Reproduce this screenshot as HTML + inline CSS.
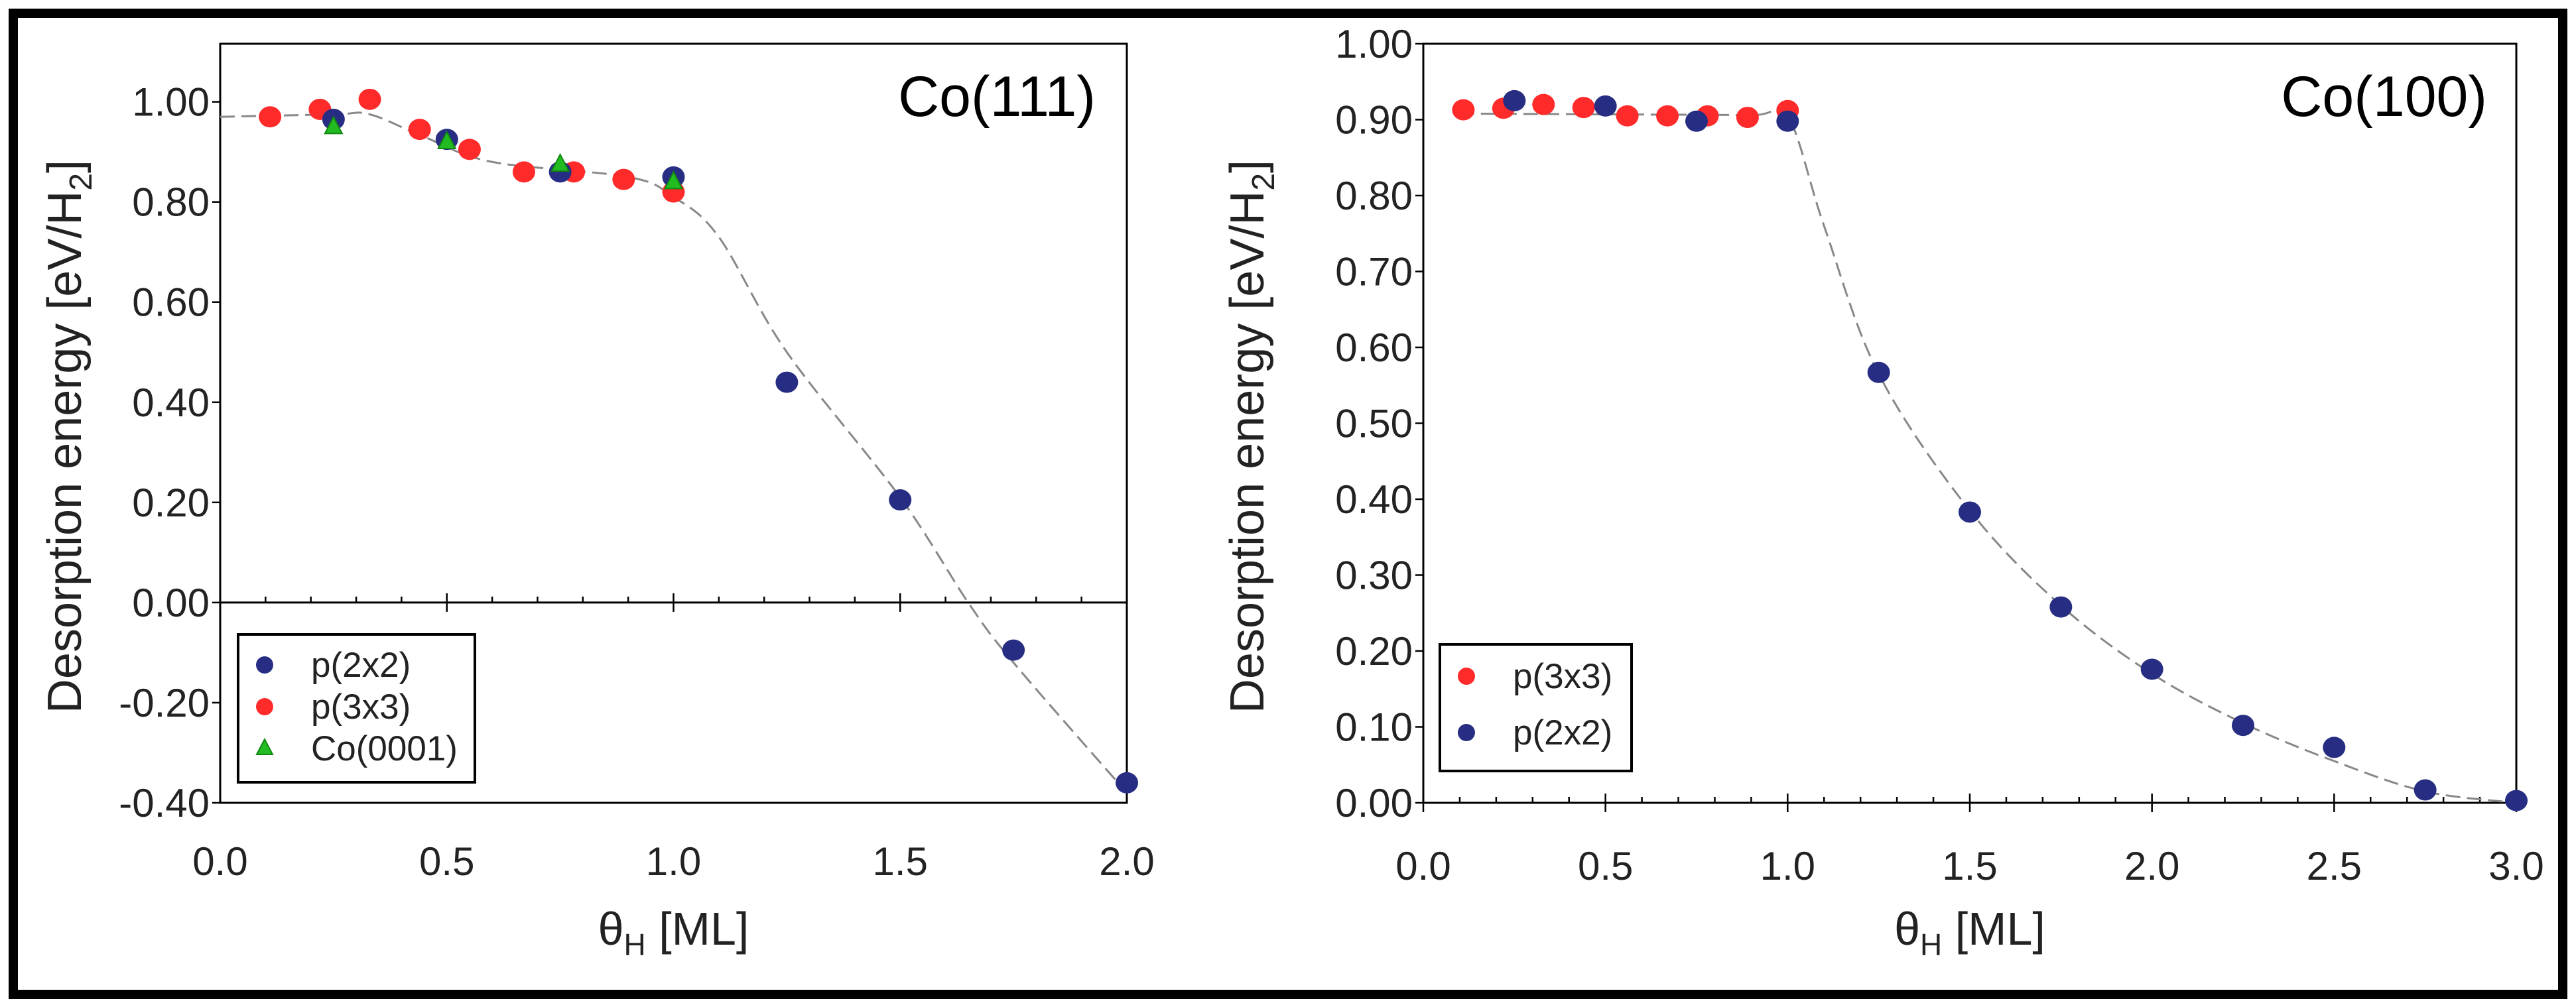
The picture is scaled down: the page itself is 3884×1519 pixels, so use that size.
<!DOCTYPE html>
<html><head><meta charset="utf-8"><style>
html,body{margin:0;padding:0;background:#fff}
svg{display:block;font-family:"Liberation Sans",Arial,sans-serif}
</style></head><body>
<svg id="chart" width="3884" height="1519" viewBox="0 0 3884 1519">
<rect x="20" y="20" width="3844" height="1480" fill="none" stroke="#000" stroke-width="14"/>
<g id="left"></g>
<g id="right"></g>
</svg>
<script>
// Left panel data
const L_red_x=[0.11,0.22,0.33,0.44,0.55,0.67,0.78,0.89,1.0];
const L_red_y=[0.97,0.985,1.005,0.945,0.905,0.86,0.86,0.845,0.82];
const L_blue_x=[0.25,0.5,0.75,1.0,1.25,1.5,1.75,2.0];
const L_blue_y=[0.965,0.925,0.86,0.85,0.44,0.205,-0.095,-0.36];
const L_green_x=[0.25,0.5,0.75,1.0];
const L_green_y=[0.95,0.92,0.875,0.84];
const L_fit_x=[0,0.25,0.33,0.45,0.6,0.9,1.0,1.1,1.25,1.5,1.65,1.75,2.0];
const L_fit_y=[0.97,0.975,0.975,0.93,0.88,0.85,0.81,0.73,0.5,0.21,0.0,-0.12,-0.38];
const L_yticks=[1.0,0.8,0.6,0.4,0.2,0.0,-0.2,-0.4];
const L_xticks=[0.0,0.5,1.0,1.5,2.0];
// Right panel data
const R_red_x=[0.11,0.22,0.33,0.44,0.56,0.67,0.78,0.89,1.0];
const R_red_y=[0.913,0.915,0.92,0.916,0.905,0.905,0.905,0.903,0.912];
const R_blue_x=[0.25,0.5,0.75,1.0,1.25,1.5,1.75,2.0,2.25,2.5,2.75,3.0];
const R_blue_y=[0.925,0.918,0.898,0.898,0.567,0.383,0.258,0.176,0.102,0.073,0.017,0.003];
const R_fit_x=[0.1,0.5,0.9,1.0,1.1,1.25,1.5,1.75,2.0,2.25,2.5,2.75,3.0];
const R_fit_y=[0.908,0.907,0.906,0.905,0.76,0.565,0.385,0.26,0.17,0.105,0.055,0.015,0.0];
const R_yticks=[1.0,0.9,0.8,0.7,0.6,0.5,0.4,0.3,0.2,0.1,0.0];
const R_xticks=[0.0,0.5,1.0,1.5,2.0,2.5,3.0];

const NS="http://www.w3.org/2000/svg";
function mk(parent,tag,attrs,text){const e=document.createElementNS(NS,tag);for(const k in attrs)e.setAttribute(k,attrs[k]);if(text!==undefined)e.textContent=text;parent.appendChild(e);return e;}
function smooth(pts){let d="M"+pts[0][0]+","+pts[0][1];for(let i=0;i<pts.length-1;i++){const p0=pts[i-1]||pts[i],p1=pts[i],p2=pts[i+1],p3=pts[i+2]||p2;const c1=[p1[0]+(p2[0]-p0[0])/6,p1[1]+(p2[1]-p0[1])/6],c2=[p2[0]-(p3[0]-p1[0])/6,p2[1]-(p3[1]-p1[1])/6];d+=" C"+c1+" "+c2+" "+p2;}return d;}

function panel(g,o){
  const X=v=>o.x0+(v-o.xmin)/(o.xmax-o.xmin)*(o.x1-o.x0);
  const Y=v=>o.yb-(v-o.ymin)/(o.ymax-o.ymin)*(o.yb-o.yt);
  const fr=mk(g,"rect",{x:o.x0,y:o.yt,width:o.x1-o.x0,height:o.yb-o.yt,fill:"none",stroke:"#000","stroke-width":3});
  
  
  const zy=Y(0);
  const zl=mk(g,"line",{x1:o.x0,x2:o.x1,y1:zy,y2:zy,stroke:"#000","stroke-width":3});
  
  
  for(let v=o.xmin;v<=o.xmax+1e-9;v+=0.1){const major=Math.abs(v*2-Math.round(v*2))<1e-6;const t=mk(g,"line",{x1:X(v),x2:X(v),y1:zy-(major?14:9),y2:zy+(major?14:0),stroke:"#000","stroke-width":2.5});
    
    }
  o.yt_.forEach(v=>{const t=mk(g,"line",{x1:o.x0-12,x2:o.x0,y1:Y(v),y2:Y(v),stroke:"#000","stroke-width":2.5});
    
    
    const l=mk(g,"text",{x:o.x0-16,y:Y(v)+21,"text-anchor":"end","font-size":60,fill:"#222"},v.toFixed(2));
    
    });
  o.xt_.forEach(v=>{const l=mk(g,"text",{x:X(v),y:o.xly,"text-anchor":"middle","font-size":60,fill:"#222"},v.toFixed(1));
    
    });
  const fit=mk(g,"path",{d:smooth(o.fx.map((v,i)=>[X(v),Y(o.fy[i])])),fill:"none",stroke:"#888","stroke-width":3,"stroke-dasharray":"22,10"});
  
  
  o.series.forEach(s=>{s.x.forEach((v,i)=>{const cx=X(v),cy=Y(s.y[i]);let m;
    if(s.tri){m=mk(g,"polygon",{points:`${cx},${cy-15} ${cx-13},${cy+10} ${cx+13},${cy+10}`,fill:"#22bb22",stroke:"#118811","stroke-width":2});}
    else{m=mk(g,"ellipse",{cx:cx,cy:cy,rx:17,ry:16,fill:s.c});}
    
    });});
  const t=mk(g,"text",{x:o.tx,y:o.tyy,"text-anchor":"end","font-size":86,fill:"#000"},o.title);
  
  
  const xl=mk(g,"text",{x:(o.x0+o.x1)/2,y:1425,"text-anchor":"middle","font-size":70,fill:"#222"});
  
  
  xl.innerHTML='θ<tspan font-size="46" dy="16">H</tspan><tspan dy="-16"> [ML]</tspan>';
  const yl=mk(g,"text",{x:0,y:0,"text-anchor":"middle","font-size":72,fill:"#222",transform:`translate(${o.ylx},${(o.yt+o.yb)/2+20}) rotate(-90)`});
  
  
  yl.innerHTML='Desorption energy [eV/H<tspan font-size="48" dy="16">2</tspan><tspan dy="-16">]</tspan>';
  const lg=mk(g,"rect",{x:o.lg[0],y:o.lg[1],width:o.lg[2],height:o.lg[3],fill:"#fff",stroke:"#000","stroke-width":4});
  
  
  o.legend.forEach((s,i)=>{const cy=o.lg[1]+o.lgy0+i*o.lgdy,cx=o.lg[0]+40;let m;
    if(s.tri)m=mk(g,"polygon",{points:`${cx},${cy-14} ${cx-12},${cy+9} ${cx+12},${cy+9}`,fill:"#22bb22",stroke:"#118811","stroke-width":2});
    else m=mk(g,"circle",{cx:cx,cy:cy,r:13,fill:s.c});
    
    
    const tx=mk(g,"text",{x:cx+70,y:cy+18,"font-size":53,fill:"#222"},s.label);
    
    });
}
const RED="#ff2a2a",BLUE="#262d82";
panel(document.getElementById("left"),{x0:332,x1:1699,yt:66,yb:1211,xmin:0,xmax:2,ymin:-0.4,ymax:1.116,
  yt_:L_yticks,xt_:L_xticks,xly:1320,fx:L_fit_x,fy:L_fit_y,
  series:[{x:L_red_x,y:L_red_y,c:RED,name:"p3x3"},{x:L_blue_x,y:L_blue_y,c:BLUE,name:"p2x2"},{x:L_green_x,y:L_green_y,tri:true,name:"co0001"}],
  title:"Co(111)",tx:1652,tyy:175,ylx:122,
  lg:[359,957,357,223],lgy0:46,lgdy:63,
  legend:[{c:BLUE,label:"p(2x2)"},{c:RED,label:"p(3x3)"},{tri:true,label:"Co(0001)"}]});
panel(document.getElementById("right"),{x0:2146,x1:3794,yt:66,yb:1211,xmin:0,xmax:3,ymin:0,ymax:1.0,
  yt_:R_yticks,xt_:R_xticks,xly:1327,fx:R_fit_x,fy:R_fit_y,
  series:[{x:R_red_x,y:R_red_y,c:RED,name:"p3x3"},{x:R_blue_x,y:R_blue_y,c:BLUE,name:"p2x2"}],
  title:"Co(100)",tx:3750,tyy:175,ylx:1905,
  lg:[2171,972,289,191],lgy0:48,lgdy:85,
  legend:[{c:RED,label:"p(3x3)"},{c:BLUE,label:"p(2x2)"}]});
</script>
</body></html>
